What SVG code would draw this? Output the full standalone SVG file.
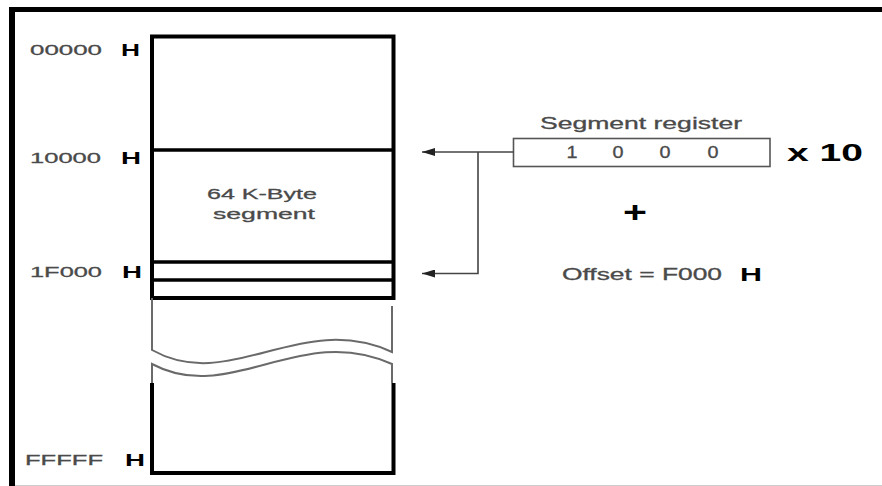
<svg xmlns="http://www.w3.org/2000/svg" width="882" height="486" viewBox="0 0 882 486">
<defs>
<style>
.lbl{font-family:"Liberation Sans",Arial,sans-serif;font-size:15.5px;fill:#4a4a4a;stroke:#4a4a4a;stroke-width:0.3}
.reg{font-family:"Liberation Sans",Arial,sans-serif;font-size:16px;fill:#4a4a4a;stroke:#4a4a4a;stroke-width:0.3}
.bold{font-family:"Liberation Sans",Arial,sans-serif;font-weight:bold;fill:#000}
.blk{fill:none;stroke:#000;stroke-width:4}
.thin{fill:none;stroke:#000;stroke-width:3.5}
.brk{fill:none;stroke:#6a6a6a;stroke-width:2}
.con{fill:none;stroke:#444;stroke-width:1.6}
</style>
<marker id="arr" markerUnits="userSpaceOnUse" viewBox="0 0 13 8" refX="13" refY="4" markerWidth="13" markerHeight="8" orient="auto">
<path d="M0,0 L13,4 L0,8 Z" fill="#222"/>
</marker>
</defs>
<rect width="882" height="486" fill="#fff"/>
<g id="frame">
<rect x="9" y="7" width="873" height="5" fill="#000"/>
<rect x="9" y="7" width="6" height="479" fill="#000"/>
<line x1="15" y1="485.5" x2="882" y2="485.5" stroke="#ccc" stroke-width="1"/>
</g>
<g id="memory">
<path class="blk" d="M152,36.5 H393.5 V298 H152 Z"/>
<line class="thin" x1="152" y1="150" x2="393.5" y2="150"/>
<line class="thin" x1="152" y1="262" x2="393.5" y2="262"/>
<line class="thin" x1="152" y1="280" x2="393.5" y2="280"/>
<path class="brk" d="M152,298 V350 C230,394 300,310 392,352 V306"/>
<path class="brk" d="M152,383 V364 C230,406 300,322 392,364 V383"/>
<path class="blk" d="M152,383 V473 H393.5 V383"/>
</g>
<g id="addr-00000">
<text class="lbl" x="30" y="54.5" textLength="72" lengthAdjust="spacingAndGlyphs">00000</text>
<text class="bold" x="121" y="55.5" font-size="17" textLength="19" lengthAdjust="spacingAndGlyphs">H</text>
</g>
<g id="addr-10000">
<text class="lbl" x="30" y="163" textLength="71" lengthAdjust="spacingAndGlyphs">10000</text>
<text class="bold" x="121" y="164" font-size="17" textLength="20" lengthAdjust="spacingAndGlyphs">H</text>
</g>
<g id="addr-1F000">
<text class="lbl" x="30" y="277" textLength="72" lengthAdjust="spacingAndGlyphs">1F000</text>
<text class="bold" x="122" y="278" font-size="17" textLength="20" lengthAdjust="spacingAndGlyphs">H</text>
</g>
<g id="addr-FFFFF">
<text class="lbl" x="25" y="464.5" textLength="78" lengthAdjust="spacingAndGlyphs">FFFFF</text>
<text class="bold" x="125" y="465.5" font-size="17" textLength="20" lengthAdjust="spacingAndGlyphs">H</text>
</g>
<g id="segment-label">
<text class="lbl" x="207" y="199" textLength="110" lengthAdjust="spacingAndGlyphs">64 K-Byte</text>
<text class="lbl" x="213" y="218.5" textLength="102" lengthAdjust="spacingAndGlyphs">segment</text>
</g>
<g id="segment-register">
<text class="reg" x="540" y="128.5" textLength="202" lengthAdjust="spacingAndGlyphs">Segment register</text>
<rect x="513.5" y="138.5" width="256.5" height="28" fill="none" stroke="#555" stroke-width="1.6"/>
<text class="reg" x="566.5" y="157.5" textLength="11" lengthAdjust="spacingAndGlyphs">1</text>
<text class="reg" x="612.5" y="157.5" textLength="11" lengthAdjust="spacingAndGlyphs">0</text>
<text class="reg" x="659.5" y="157.5" textLength="11" lengthAdjust="spacingAndGlyphs">0</text>
<text class="reg" x="707.5" y="157.5" textLength="11" lengthAdjust="spacingAndGlyphs">0</text>
</g>
<g id="times10">
<text class="bold" x="787" y="160.5" font-size="23" textLength="76" lengthAdjust="spacingAndGlyphs">x 10</text>
</g>
<g id="plus">
<text class="bold" x="623" y="221.5" font-size="30" textLength="24" lengthAdjust="spacingAndGlyphs">+</text>
</g>
<g id="offset">
<text class="reg" x="562" y="279.5" textLength="160" lengthAdjust="spacingAndGlyphs">Offset = F000</text>
<text class="bold" x="740" y="280.5" font-size="18" textLength="22" lengthAdjust="spacingAndGlyphs">H</text>
</g>
<g id="connectors">
<path class="con" d="M513.5,152 H422" marker-end="url(#arr)"/>
<path class="con" d="M478,152 V273.5 H422" marker-end="url(#arr)"/>
</g>
</svg>
